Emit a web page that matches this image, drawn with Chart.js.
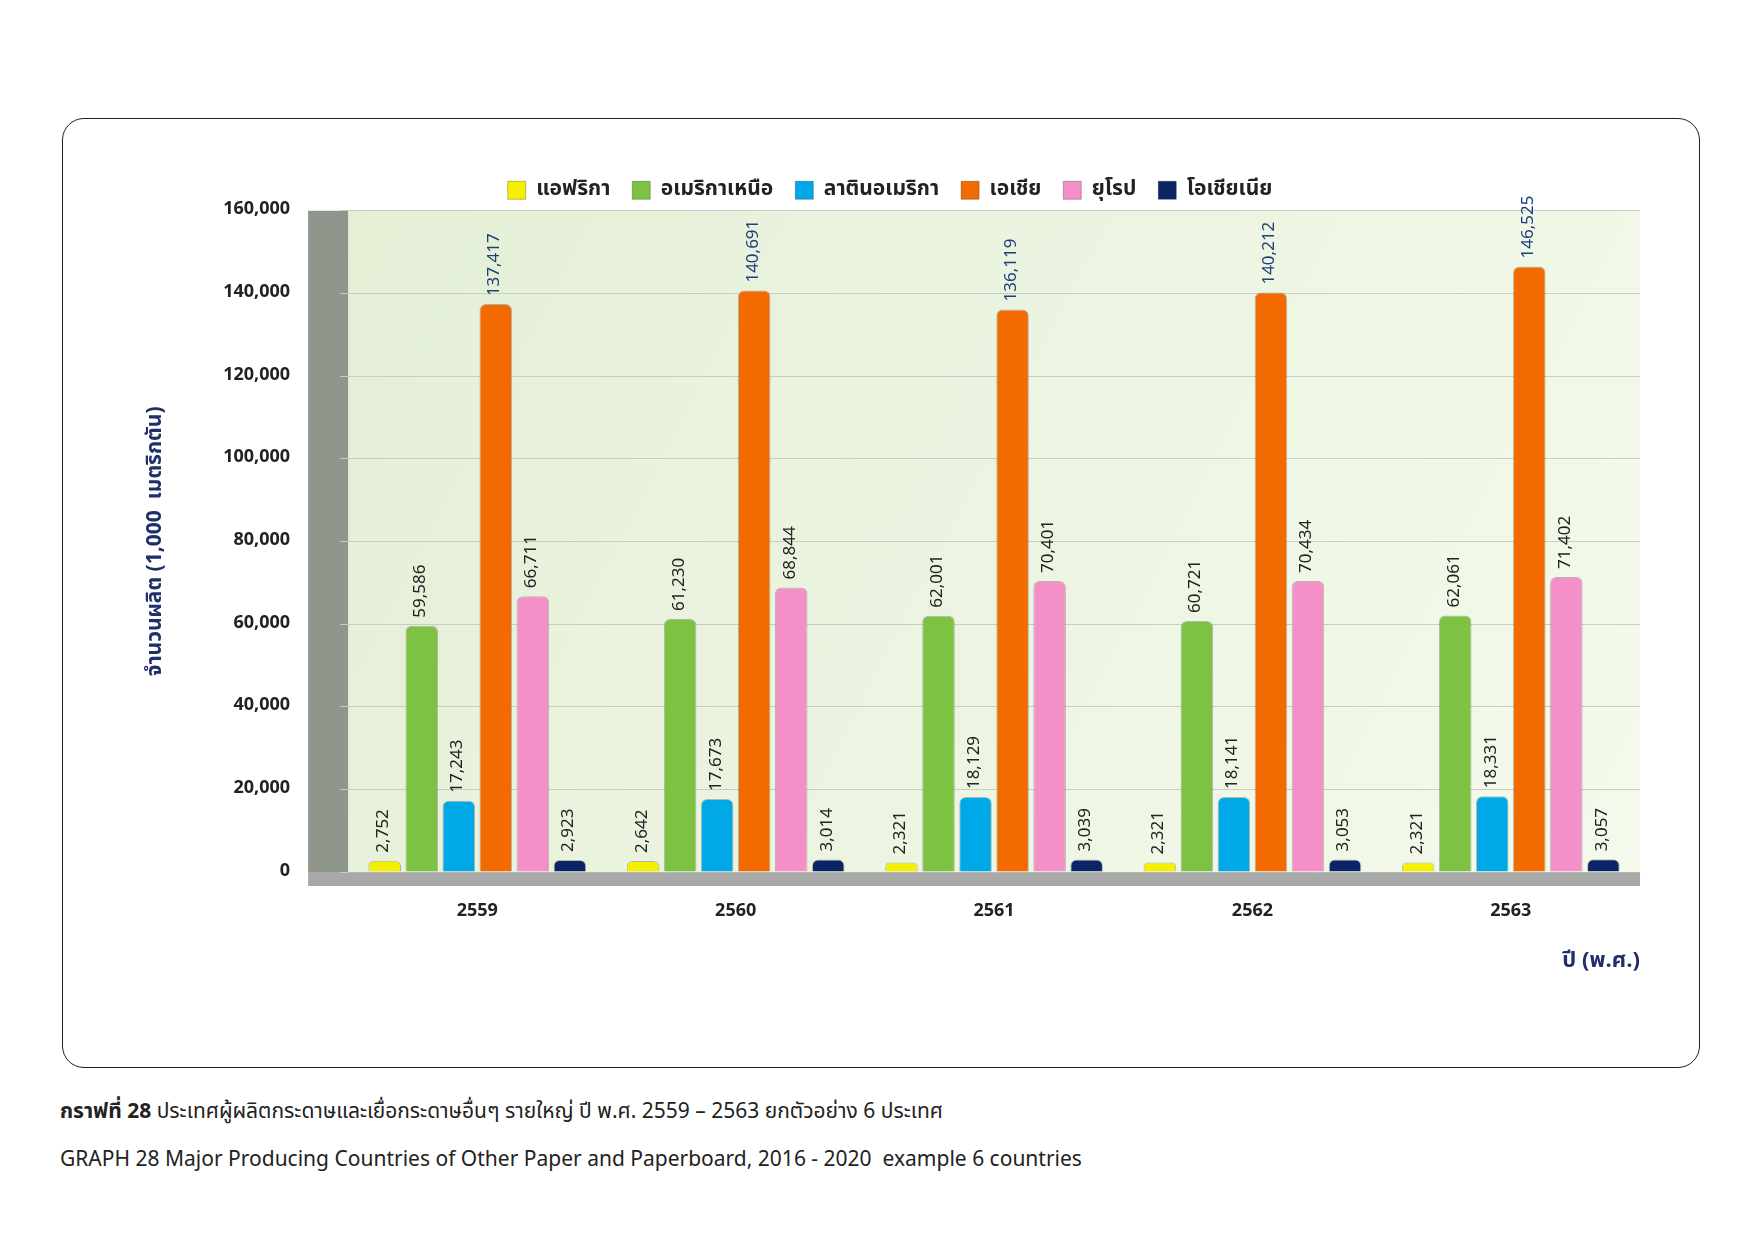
<!DOCTYPE html>
<html>
<head>
<meta charset="utf-8">
<script src="https://cdn.jsdelivr.net/npm/chart.js@4"></script>
<style>
  body { margin: 0; background: #fff; font-family: "Noto Sans Thai", "Noto Sans", sans-serif; }
  #frame { position: absolute; left: 62px; top: 118px; width: 1638px; height: 950px;
    border: 1.5px solid #222; border-radius: 22px; box-sizing: border-box; }
  #wrap { position: absolute; left: 130px; top: 150px; width: 1540px; height: 830px; }
  .cap { position: absolute; left: 60px; font-size: 21px; color: #222; }
</style>
</head>
<body>
<div id="frame"></div>
<div id="wrap"><canvas id="c"></canvas></div>
<div class="cap" style="top:1096px"><b>กราฟที่ 28</b> ประเทศผู้ผลิตกระดาษและเยื่อกระดาษอื่นๆ รายใหญ่ ปี พ.ศ. 2559 – 2563 ยกตัวอย่าง 6 ประเทศ</div>
<div class="cap" style="top:1144px">GRAPH 28 Major Producing Countries of Other Paper and Paperboard, 2016 - 2020&nbsp; example 6 countries</div>
<script>
const years = ['2559', '2560', '2561', '2562', '2563']
const regions = ['แอฟริกา', 'อเมริกาเหนือ', 'ลาตินอเมริกา', 'เอเชีย', 'ยุโรป', 'โอเชียเนีย']
const colors = ['#f5f000', '#7dc242', '#00a8e8', '#f36a00', '#f58fc8', '#0b2466']
const africa = [2752, 2642, 2321, 2321, 2321]
const northAmerica = [59586, 61230, 62001, 60721, 62061]
const latinAmerica = [17243, 17673, 18129, 18141, 18331]
const asia = [137417, 140691, 136119, 140212, 146525]
const europe = [66711, 68844, 70401, 70434, 71402]
const oceania = [2923, 3014, 3039, 3053, 3057]
const series = [africa, northAmerica, latinAmerica, asia, europe, oceania]

const font = "'Noto Sans Thai', 'Noto Sans', sans-serif"

const plotBg = {
  id: 'plotBg',
  beforeDraw(chart) {
    const { ctx, chartArea: a } = chart
    const g = ctx.createLinearGradient(a.left, a.top, a.right, a.bottom)
    g.addColorStop(0, '#e4efd6')
    g.addColorStop(1, '#f4faec')
    ctx.save()
    ctx.fillStyle = g
    ctx.fillRect(a.left, a.top, a.right - a.left, a.bottom - a.top)
    ctx.fillStyle = '#8f978c'
    ctx.fillRect(a.left - 40, a.top, 40, a.bottom - a.top)
    ctx.fillStyle = '#a8a8a8'
    ctx.fillRect(a.left - 40, a.bottom, a.right - a.left + 40, 14)
    ctx.restore()
  }
}

const valueLabels = {
  id: 'valueLabels',
  afterDatasetsDraw(chart) {
    const { ctx } = chart
    ctx.save()
    ctx.font = '17px ' + font
    ctx.textBaseline = 'middle'
    chart.data.datasets.forEach((ds, i) => {
      chart.getDatasetMeta(i).data.forEach((bar, j) => {
        ctx.save()
        ctx.translate(bar.x, bar.y - 8)
        ctx.rotate(-Math.PI / 2)
        ctx.fillStyle = i === 3 ? '#1f3f7a' : '#222'
        ctx.fillText(ds.data[j].toLocaleString('en-US'), 0, 0)
        ctx.restore()
      })
    })
    ctx.restore()
  }
}

new Chart(document.getElementById('c'), {
  type: 'bar',
  data: {
    labels: years,
    datasets: regions.map((r, i) => ({
      label: r,
      data: series[i],
      backgroundColor: colors[i],
      borderColor: 'rgba(0,0,0,0.25)',
      borderWidth: 1,
      borderRadius: 6,
      borderSkipped: 'bottom'
    }))
  },
  options: {
    responsive: true,
    maintainAspectRatio: false,
    animation: false,
    layout: { padding: { top: 0, right: 30, left: 10, bottom: 0 } },
    plugins: {
      legend: {
        position: 'top',
        labels: { boxWidth: 18, boxHeight: 18, font: { size: 21, family: font, weight: 'bold' }, color: '#222', padding: 22 }
      },
      tooltip: { enabled: false }
    },
    datasets: { bar: { categoryPercentage: 0.86, barPercentage: 0.88 } },
    scales: {
      x: {
        grid: { display: false },
        ticks: { font: { size: 18, family: font, weight: 'bold' }, color: '#222', padding: 22 },
        title: { display: true, text: 'ปี (พ.ศ.)', align: 'end', color: '#1f2f6a', font: { size: 22, family: font, weight: 'bold' } }
      },
      y: {
        min: 0,
        max: 160000,
        grid: { color: '#c8cfc2' },
        border: { display: false },
        ticks: { stepSize: 20000, font: { size: 18, family: font, weight: 'bold' }, color: '#222', padding: 50, callback: v => v.toLocaleString('en-US') },
        title: { display: true, text: 'จำนวนผลิต (1,000  เมตริกตัน)', color: '#1f2f6a', font: { size: 21, family: font, weight: 'bold' } }
      }
    }
  },
  plugins: [plotBg, valueLabels]
})
</script>
</body>
</html>
